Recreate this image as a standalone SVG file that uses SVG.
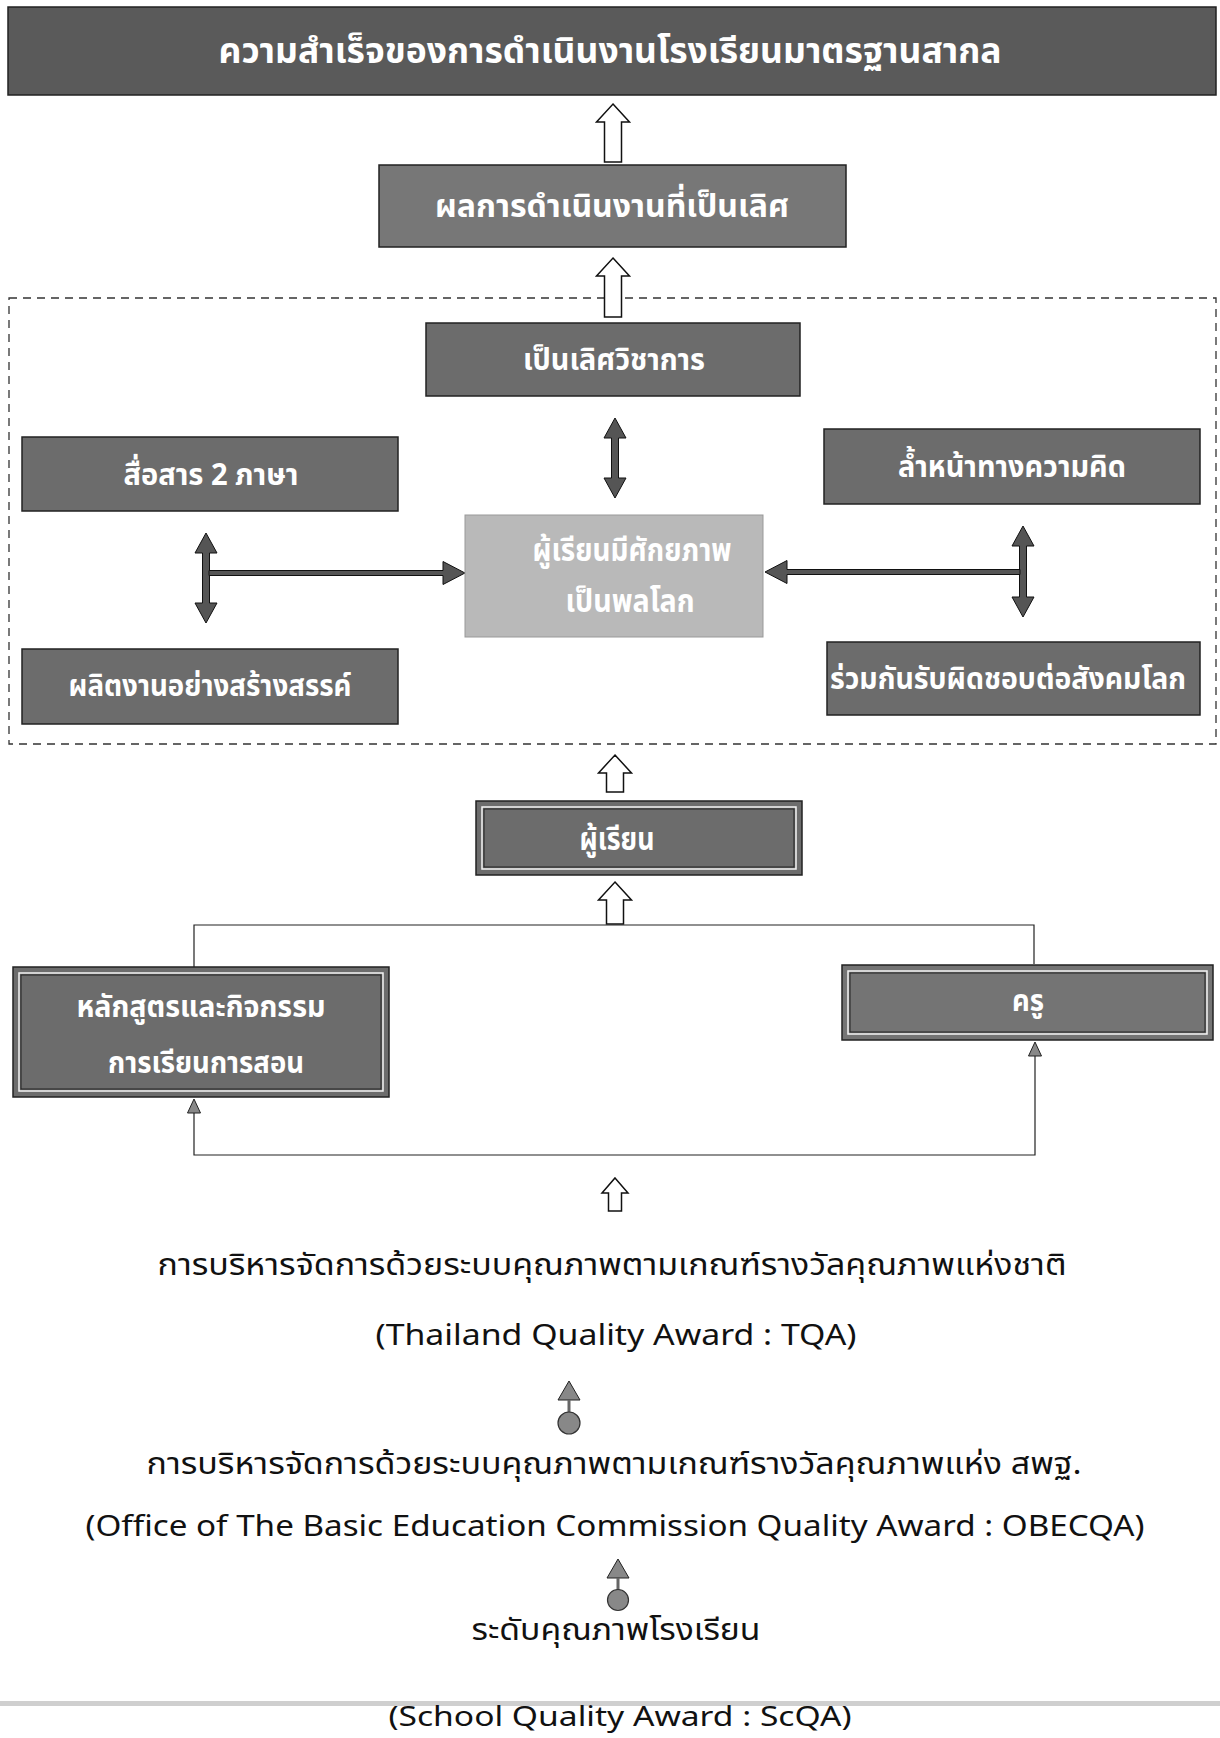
<svg xmlns="http://www.w3.org/2000/svg" width="1220" height="1738" viewBox="0 0 1220 1738">
<defs>
<style>
.box{stroke:#222;stroke-width:1.5}
.dark{fill:#5a5a5a}
.mid{fill:#6c6c6c}
.light{fill:#b9b9b9}
.inner{fill:none;stroke:#f4f4f4;stroke-width:1.5}
.inner2{fill:none;stroke:#222;stroke-width:1}
.bt{font-family:"Noto Sans Thai","Noto Sans","DejaVu Sans",sans-serif;font-weight:bold;fill:#fff;text-anchor:middle}
.pt{font-family:"Noto Sans Thai","Noto Sans","DejaVu Sans",sans-serif;fill:#111;text-anchor:middle}
.hollow{fill:#fff;stroke:#111;stroke-width:1.5;stroke-linejoin:miter}
.dbl{fill:#555;stroke:#111;stroke-width:1}
.thin{fill:none;stroke:#222;stroke-width:1.2}
.head{fill:#888;stroke:#222;stroke-width:1}
</style>
</defs>
<rect width="1220" height="1738" fill="#fff"/>

<g id="frame">
<rect x="9" y="298" width="1207" height="446" fill="none" stroke="#333" stroke-width="1.3" stroke-dasharray="8,6"/>
</g>

<g id="connectors">
<polygon class="hollow" points="613,104 629.5,122 621.5,122 621.5,162 604.5,162 604.5,122 596.5,122"/>
<polygon class="hollow" points="613,258 629.5,276 621.5,276 621.5,317 604.5,317 604.5,276 596.5,276"/>
<polygon class="dbl" points="615,418 626,438 618.5,438 618.5,478 626,478 615,498 604,478 611.5,478 611.5,438 604,438"/>
<polygon class="dbl" points="206,533 217,553 209.5,553 209.5,603 217,603 206,623 195,603 202.5,603 202.5,553 195,553"/>
<polygon class="dbl" points="209,570.5 443,570.5 443,561.5 465,573 443,584.5 443,575.5 209,575.5"/>
<polygon class="dbl" points="1023,526 1034,546 1026.5,546 1026.5,597 1034,597 1023,617 1012,597 1019.5,597 1019.5,546 1012,546"/>
<polygon class="dbl" points="1020,569.5 787,569.5 787,560.5 765,572 787,583.5 787,574.5 1020,574.5"/>
<polygon class="hollow" points="615,755 631.5,773 623.5,773 623.5,792 606.5,792 606.5,773 598.5,773"/>
<polygon class="hollow" points="615,882 631.5,900 623.5,900 623.5,924 606.5,924 606.5,900 598.5,900"/>
<polyline class="thin" points="194,967 194,925 1034,925 1034,964"/>
<polyline class="thin" points="194,1112 194,1155 1035,1155 1035,1055"/>
<polygon class="head" points="194,1099 200.5,1113 187.5,1113"/>
<polygon class="head" points="1035,1042 1041.5,1056 1028.5,1056"/>
<polygon class="hollow" points="615,1178 628,1193 621.5,1193 621.5,1211 608.5,1211 608.5,1193 602,1193"/>
<polygon class="head" points="569,1381 580,1400 558,1400"/>
<rect x="567.5" y="1400" width="3" height="13" fill="#666"/>
<circle cx="569" cy="1423" r="11" fill="#888" stroke="#333" stroke-width="1.2"/>
<polygon class="head" points="618,1559 629,1578 607,1578"/>
<rect x="616.5" y="1578" width="3" height="13" fill="#666"/>
<circle cx="618" cy="1600" r="10.5" fill="#888" stroke="#333" stroke-width="1.2"/>
</g>

<g id="n-top">
<rect class="box dark" x="8" y="7" width="1208" height="88"/>
<text class="bt" x="610" y="63" font-size="36" textLength="783" lengthAdjust="spacingAndGlyphs">ความสำเร็จของการดำเนินงานโรงเรียนมาตรฐานสากล</text>
</g>

<g id="n-excellent">
<rect class="box" x="379" y="165" width="467" height="82" fill="#777"/>
<text class="bt" x="612" y="217" font-size="32" textLength="354" lengthAdjust="spacingAndGlyphs">ผลการดำเนินงานที่เป็นเลิศ</text>
</g>

<g id="n-academic">
<rect class="box mid" x="426" y="323" width="374" height="73"/>
<text class="bt" x="614" y="370" font-size="30" textLength="182" lengthAdjust="spacingAndGlyphs">เป็นเลิศวิชาการ</text>
</g>

<g id="n-bilingual">
<rect class="box mid" x="22" y="437" width="376" height="74"/>
<text class="bt" x="211" y="485" font-size="30" textLength="175" lengthAdjust="spacingAndGlyphs">สื่อสาร 2 ภาษา</text>
</g>

<g id="n-thinking">
<rect class="box mid" x="824" y="429" width="376" height="75"/>
<text class="bt" x="1012" y="477" font-size="30" textLength="228" lengthAdjust="spacingAndGlyphs">ล้ำหน้าทางความคิด</text>
</g>

<g id="n-center">
<rect x="465" y="515" width="298" height="122" fill="#b9b9b9" stroke="#999" stroke-width="1"/>
<text class="bt" x="632" y="561" font-size="31" fill="#f4f4f4" textLength="199" lengthAdjust="spacingAndGlyphs">ผู้เรียนมีศักยภาพ</text>
<text class="bt" x="630" y="612" font-size="31" fill="#f4f4f4" textLength="129" lengthAdjust="spacingAndGlyphs">เป็นพลโลก</text>
</g>

<g id="n-creative">
<rect class="box mid" x="22" y="649" width="376" height="75"/>
<text class="bt" x="210" y="696" font-size="30" textLength="283" lengthAdjust="spacingAndGlyphs">ผลิตงานอย่างสร้างสรรค์</text>
</g>

<g id="n-responsible">
<rect class="box mid" x="827" y="642" width="373" height="73"/>
<text class="bt" x="1008" y="689" font-size="30" textLength="356" lengthAdjust="spacingAndGlyphs">ร่วมกันรับผิดชอบต่อสังคมโลก</text>
</g>

<g id="n-learner">
<rect class="box mid" x="476" y="801" width="326" height="74"/>
<rect class="inner" x="482" y="807" width="314" height="62"/>
<rect class="inner2" x="484" y="809" width="310" height="58"/>
<text class="bt" x="617" y="850" font-size="31" textLength="75" lengthAdjust="spacingAndGlyphs">ผู้เรียน</text>
</g>

<g id="n-curriculum">
<rect class="box mid" x="13" y="967" width="376" height="130"/>
<rect class="inner" x="19" y="973" width="364" height="118"/>
<rect class="inner2" x="21" y="975" width="360" height="114"/>
<text class="bt" x="201" y="1017" font-size="30" textLength="249" lengthAdjust="spacingAndGlyphs">หลักสูตรและกิจกรรม</text>
<text class="bt" x="206" y="1073" font-size="30" textLength="196" lengthAdjust="spacingAndGlyphs">การเรียนการสอน</text>
</g>

<g id="n-teacher">
<rect class="box" x="842" y="965" width="371" height="75" fill="#747474"/>
<rect class="inner" x="848" y="971" width="359" height="63"/>
<rect class="inner2" x="850" y="973" width="355" height="59"/>
<text class="bt" x="1028" y="1011" font-size="30" textLength="32" lengthAdjust="spacingAndGlyphs">ครู</text>
</g>

<g id="n-tqa">
<text class="pt" x="612" y="1275" font-size="30" textLength="909" lengthAdjust="spacingAndGlyphs">การบริหารจัดการด้วยระบบคุณภาพตามเกณฑ์รางวัลคุณภาพแห่งชาติ</text>
<text class="pt" x="616" y="1345" font-size="29" textLength="481" lengthAdjust="spacingAndGlyphs">(Thailand Quality Award : TQA)</text>
</g>

<g id="n-obecqa">
<text class="pt" x="614" y="1474" font-size="30" textLength="935" lengthAdjust="spacingAndGlyphs">การบริหารจัดการด้วยระบบคุณภาพตามเกณฑ์รางวัลคุณภาพแห่ง สพฐ.</text>
<text class="pt" x="615" y="1536" font-size="29" textLength="1059" lengthAdjust="spacingAndGlyphs">(Office of The Basic Education Commission Quality Award : OBECQA)</text>
</g>

<g id="n-scqa">
<text class="pt" x="616" y="1640" font-size="30" textLength="289" lengthAdjust="spacingAndGlyphs">ระดับคุณภาพโรงเรียน</text>
<rect x="0" y="1701" width="1220" height="5" fill="#cfcfcf"/>
<text class="pt" x="620" y="1726" font-size="28" textLength="463" lengthAdjust="spacingAndGlyphs">(School Quality Award : ScQA)</text>
</g>
</svg>
